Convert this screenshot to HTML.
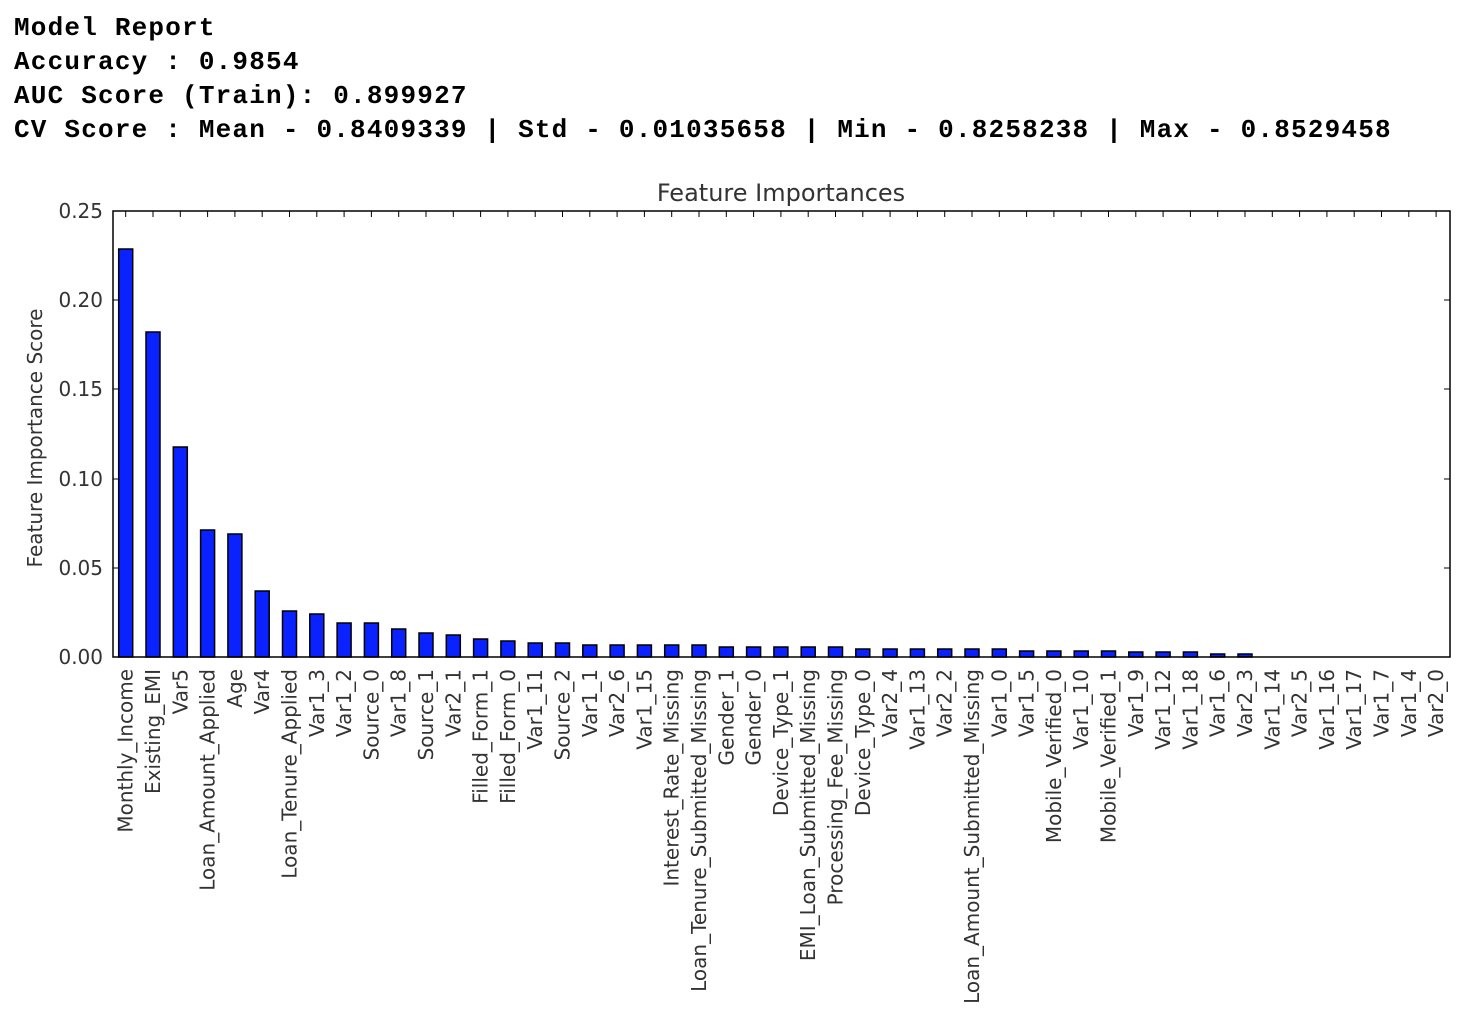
<!DOCTYPE html>
<html><head><meta charset="utf-8"><style>
body{margin:0;background:#fff;}
svg{display:block;}
.h{font-family:"Liberation Mono",monospace;font-size:26px;letter-spacing:1.2px;font-weight:bold;fill:#000;}
.t{font-family:"DejaVu Sans","Liberation Sans",sans-serif;fill:#333;}
.xl{font-family:"DejaVu Sans","Liberation Sans",sans-serif;font-size:20px;fill:#333;text-anchor:end;}
rect.b{fill:#0a22ff;stroke:#000;stroke-width:1.5;}
</style></head><body>
<svg width="1472" height="1032" xmlns="http://www.w3.org/2000/svg">
<text class="h" x="14" y="35">Model Report</text>
<text class="h" x="14" y="69">Accuracy : 0.9854</text>
<text class="h" x="14" y="103">AUC Score (Train): 0.899927</text>
<text class="h" x="14" y="137">CV Score : Mean - 0.8409339 | Std - 0.01035658 | Min - 0.8258238 | Max - 0.8529458</text>
<text class="t" x="781" y="201" font-size="24" text-anchor="middle">Feature Importances</text>
<text class="t" font-size="20" transform="translate(42,438) rotate(-90)" text-anchor="middle">Feature Importance Score</text>
<g class="t" font-size="20" text-anchor="end">
<text x="103" y="218">0.25</text><text x="103" y="307">0.20</text><text x="103" y="396">0.15</text><text x="103" y="486">0.10</text><text x="103" y="575">0.05</text><text x="103" y="664">0.00</text>
</g>
<g stroke="#000" stroke-width="1">
<line x1="113" y1="300" x2="119" y2="300"/><line x1="113" y1="389" x2="119" y2="389"/><line x1="113" y1="479" x2="119" y2="479"/><line x1="113" y1="568" x2="119" y2="568"/>
<line x1="1444" y1="300" x2="1450" y2="300"/><line x1="1444" y1="389" x2="1450" y2="389"/><line x1="1444" y1="479" x2="1450" y2="479"/><line x1="1444" y1="568" x2="1450" y2="568"/>
</g>
<g>
<rect class="b" x="118.7" y="249" width="14" height="408"/>
<rect class="b" x="146" y="332" width="14" height="325"/>
<rect class="b" x="173.3" y="447" width="14" height="210"/>
<rect class="b" x="200.6" y="530" width="14" height="127"/>
<rect class="b" x="227.9" y="534" width="14" height="123"/>
<rect class="b" x="255.2" y="591" width="14" height="66"/>
<rect class="b" x="282.5" y="611" width="14" height="46"/>
<rect class="b" x="309.8" y="614" width="14" height="43"/>
<rect class="b" x="337.1" y="623" width="14" height="34"/>
<rect class="b" x="364.4" y="623" width="14" height="34"/>
<rect class="b" x="391.7" y="629" width="14" height="28"/>
<rect class="b" x="419" y="633" width="14" height="24"/>
<rect class="b" x="446.3" y="635" width="14" height="22"/>
<rect class="b" x="473.6" y="639" width="14" height="18"/>
<rect class="b" x="500.9" y="641" width="14" height="16"/>
<rect class="b" x="528.2" y="643" width="14" height="14"/>
<rect class="b" x="555.5" y="643" width="14" height="14"/>
<rect class="b" x="582.8" y="645" width="14" height="12"/>
<rect class="b" x="610.1" y="645" width="14" height="12"/>
<rect class="b" x="637.4" y="645" width="14" height="12"/>
<rect class="b" x="664.7" y="645" width="14" height="12"/>
<rect class="b" x="692" y="645" width="14" height="12"/>
<rect class="b" x="719.3" y="647" width="14" height="10"/>
<rect class="b" x="746.6" y="647" width="14" height="10"/>
<rect class="b" x="773.9" y="647" width="14" height="10"/>
<rect class="b" x="801.2" y="647" width="14" height="10"/>
<rect class="b" x="828.5" y="647" width="14" height="10"/>
<rect class="b" x="855.8" y="649" width="14" height="8"/>
<rect class="b" x="883.1" y="649" width="14" height="8"/>
<rect class="b" x="910.4" y="649" width="14" height="8"/>
<rect class="b" x="937.7" y="649" width="14" height="8"/>
<rect class="b" x="965" y="649" width="14" height="8"/>
<rect class="b" x="992.3" y="649" width="14" height="8"/>
<rect class="b" x="1019.6" y="651" width="14" height="6"/>
<rect class="b" x="1046.9" y="651" width="14" height="6"/>
<rect class="b" x="1074.2" y="651" width="14" height="6"/>
<rect class="b" x="1101.5" y="651" width="14" height="6"/>
<rect class="b" x="1128.8" y="652" width="14" height="5"/>
<rect class="b" x="1156.1" y="652" width="14" height="5"/>
<rect class="b" x="1183.4" y="652" width="14" height="5"/>
<rect class="b" x="1210.7" y="654" width="14" height="3"/>
<rect class="b" x="1238" y="654" width="14" height="3"/>
</g>
<rect x="113" y="211" width="1337" height="446" fill="none" stroke="#000" stroke-width="1.5"/>
<g stroke="#000" stroke-width="1">
<path d="M125.7 211v6M153 211v6M180.3 211v6M207.6 211v6M234.9 211v6M262.2 211v6M289.5 211v6M316.8 211v6M344.1 211v6M371.4 211v6M398.7 211v6M426 211v6M453.3 211v6M480.6 211v6M507.9 211v6M535.2 211v6M562.5 211v6M589.8 211v6M617.1 211v6M644.4 211v6M671.7 211v6M699 211v6M726.3 211v6M753.6 211v6M780.9 211v6M808.2 211v6M835.5 211v6M862.8 211v6M890.1 211v6M917.4 211v6M944.7 211v6M972 211v6M999.3 211v6M1026.6 211v6M1053.9 211v6M1081.2 211v6M1108.5 211v6M1135.8 211v6M1163.1 211v6M1190.4 211v6M1217.7 211v6M1245 211v6M1272.3 211v6M1299.6 211v6M1326.9 211v6M1354.2 211v6M1381.5 211v6M1408.8 211v6M1436.1 211v6"/>
</g>
<g class="xl">
<text transform="translate(132.7,669) rotate(-90)">Monthly_Income</text>
<text transform="translate(160,669) rotate(-90)">Existing_EMI</text>
<text transform="translate(187.3,669) rotate(-90)">Var5</text>
<text transform="translate(214.6,669) rotate(-90)">Loan_Amount_Applied</text>
<text transform="translate(241.9,669) rotate(-90)">Age</text>
<text transform="translate(269.2,669) rotate(-90)">Var4</text>
<text transform="translate(296.5,669) rotate(-90)">Loan_Tenure_Applied</text>
<text transform="translate(323.8,669) rotate(-90)">Var1_3</text>
<text transform="translate(351.1,669) rotate(-90)">Var1_2</text>
<text transform="translate(378.4,669) rotate(-90)">Source_0</text>
<text transform="translate(405.7,669) rotate(-90)">Var1_8</text>
<text transform="translate(433,669) rotate(-90)">Source_1</text>
<text transform="translate(460.3,669) rotate(-90)">Var2_1</text>
<text transform="translate(487.6,669) rotate(-90)">Filled_Form_1</text>
<text transform="translate(514.9,669) rotate(-90)">Filled_Form_0</text>
<text transform="translate(542.2,669) rotate(-90)">Var1_11</text>
<text transform="translate(569.5,669) rotate(-90)">Source_2</text>
<text transform="translate(596.8,669) rotate(-90)">Var1_1</text>
<text transform="translate(624.1,669) rotate(-90)">Var2_6</text>
<text transform="translate(651.4,669) rotate(-90)">Var1_15</text>
<text transform="translate(678.7,669) rotate(-90)">Interest_Rate_Missing</text>
<text transform="translate(706,669) rotate(-90)">Loan_Tenure_Submitted_Missing</text>
<text transform="translate(733.3,669) rotate(-90)">Gender_1</text>
<text transform="translate(760.6,669) rotate(-90)">Gender_0</text>
<text transform="translate(787.9,669) rotate(-90)">Device_Type_1</text>
<text transform="translate(815.2,669) rotate(-90)">EMI_Loan_Submitted_Missing</text>
<text transform="translate(842.5,669) rotate(-90)">Processing_Fee_Missing</text>
<text transform="translate(869.8,669) rotate(-90)">Device_Type_0</text>
<text transform="translate(897.1,669) rotate(-90)">Var2_4</text>
<text transform="translate(924.4,669) rotate(-90)">Var1_13</text>
<text transform="translate(951.7,669) rotate(-90)">Var2_2</text>
<text transform="translate(979,669) rotate(-90)">Loan_Amount_Submitted_Missing</text>
<text transform="translate(1006.3,669) rotate(-90)">Var1_0</text>
<text transform="translate(1033.6,669) rotate(-90)">Var1_5</text>
<text transform="translate(1060.9,669) rotate(-90)">Mobile_Verified_0</text>
<text transform="translate(1088.2,669) rotate(-90)">Var1_10</text>
<text transform="translate(1115.5,669) rotate(-90)">Mobile_Verified_1</text>
<text transform="translate(1142.8,669) rotate(-90)">Var1_9</text>
<text transform="translate(1170.1,669) rotate(-90)">Var1_12</text>
<text transform="translate(1197.4,669) rotate(-90)">Var1_18</text>
<text transform="translate(1224.7,669) rotate(-90)">Var1_6</text>
<text transform="translate(1252,669) rotate(-90)">Var2_3</text>
<text transform="translate(1279.3,669) rotate(-90)">Var1_14</text>
<text transform="translate(1306.6,669) rotate(-90)">Var2_5</text>
<text transform="translate(1333.9,669) rotate(-90)">Var1_16</text>
<text transform="translate(1361.2,669) rotate(-90)">Var1_17</text>
<text transform="translate(1388.5,669) rotate(-90)">Var1_7</text>
<text transform="translate(1415.8,669) rotate(-90)">Var1_4</text>
<text transform="translate(1443.1,669) rotate(-90)">Var2_0</text>
</g>
</svg>
</body></html>
